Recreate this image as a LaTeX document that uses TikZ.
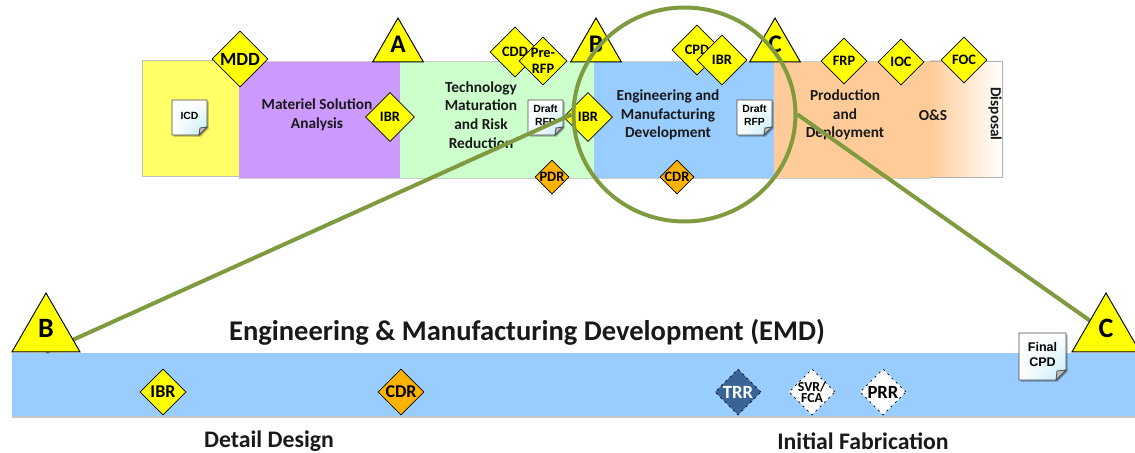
\documentclass[tikz,border=0pt]{standalone}
\usepackage{fontspec}
\setmainfont{Carlito}
\newfontfamily\notefont{Liberation Sans}
\usetikzlibrary{shapes.geometric,shadows,shadings}
\definecolor{phYellow}{HTML}{FFFF66}
\definecolor{phPurple}{HTML}{CC99FF}
\definecolor{phGreen}{HTML}{CCFFCC}
\definecolor{phBlue}{HTML}{99CCFF}
\definecolor{phOrange}{HTML}{FFCC99}
\definecolor{msYellow}{HTML}{FFFF00}
\definecolor{msOrange}{HTML}{FFB300}
\definecolor{msNavy}{HTML}{3B6496}
\definecolor{zoomGreen}{HTML}{7F9A3F}
\definecolor{notePale}{HTML}{BFEBFA}
\tikzset{
  x=0.75pt,y=-0.75pt,
  phase/.style={draw=black!20,line width=0.5pt},
  phtext/.style={font=\bfseries\fontsize{11.5}{14}\selectfont,align=center,text=black!90},
  msbase/.style={shape=diamond,aspect=1,inner sep=0pt,draw=black,line width=0.6pt},
  msyellow/.style={msbase,fill=msYellow},
  msorange/.style={msbase,fill=msOrange},
  mswhite/.style={msbase,fill=white,dash pattern=on 1.5pt off 3pt},
  msnavy/.style={msbase,fill=msNavy,dash pattern=on 1.5pt off 3pt},
  toptri/.style={shape=regular polygon,regular polygon sides=3,inner sep=0pt,draw=black,line width=0.7pt,fill=msYellow,minimum size=58.6*0.75pt,
    label={[font=\bfseries\fontsize{19}{19}\selectfont,yshift=2pt]center:#1}},
  bigtri/.style={shape=regular polygon,regular polygon sides=3,inner sep=0pt,draw=black,line width=0.7pt,fill=msYellow,minimum size=78.6*0.75pt,
    label={[font=\bfseries\fontsize{21}{21}\selectfont,yshift=3pt]center:#1}},
  zoomline/.style={draw=zoomGreen,line width=3pt},
  notefill/.style={draw=black!70,line width=0.7pt,upper left=white,upper right=white,lower left=white,lower right=notePale},
}
\newcommand{\milestone}[7][10.8]{%
  \node[#2,minimum size=2*#6*0.75pt,label={[align=center,text=#7,font=\bfseries\fontsize{#1}{#1}\selectfont]center:{#5}}] (#3) at (#4) {};}
\newcommand{\notebox}[7]{%
  % name, left, top, size, fold, font size, text
  \draw[notefill,drop shadow={shadow xshift=1.2pt,shadow yshift=-1.2pt,opacity=0.3,fill=black}]
    (#2,#3) -- (#2+#4,#3) -- (#2+#4,#3+#4-#5) -- (#2+#4-#5,#3+#4) -- (#2,#3+#4) -- cycle;
  \draw[draw=black!70,line width=0.6pt,fill=black!25] (#2+#4,#3+#4-#5) -- (#2+#4-#5,#3+#4) -- (#2+#4-#5+1,#3+#4-#5+1) -- cycle;
  \node[font=\notefont\bfseries\fontsize{#6}{#6}\selectfont,align=center,inner sep=0pt] (#1) at (#2+#4/2,#3+#4/2-2) {#7};}
\begin{document}
\begin{tikzpicture}
\useasboundingbox (0,0) rectangle (1135,453);
% phase bands
\path[fill=phYellow,draw=black!25,line width=0.5pt] (142,60) rectangle (239,176);
\path[fill=phPurple] (239,61) rectangle (400,178);
\path[fill=phGreen] (400,61) rectangle (594,178);
\path[fill=phBlue] (594,61) rectangle (774,178);
\path[fill=phOrange] (774,61) rectangle (930,178);
\path[left color=phOrange,right color=white] (930,61) rectangle (1002,177);
\draw[phase] (239,178) -- (930,178) (239,61) -- (930,61);
\draw[draw=black!30,line width=0.5pt] (930,61) -- (1002,61) -- (1002,177) -- (930,177);
% phase labels
\node[phtext] (msa) at (317,115) {Materiel Solution\\Analysis};
\node[phtext] (tmrr) at (481,115) {Technology\\Maturation\\and Risk\\Reduction};
\node[phtext] (emdtop) at (668,115) {Engineering and\\Manufacturing\\Development};
\node[phtext] (pd) at (845,115) {Production\\and\\Deployment};
\node[phtext] (os) at (933,115) {O\&S};
\node[phtext,rotate=-90] (disposal) at (995,114) {Disposal};
% notes
\notebox{icd}{172}{100}{35}{8}{7.8}{ICD}
\notebox{rfpa}{528}{100}{35}{8}{7.8}{Draft\\[2pt]RFP}
\notebox{rfpb}{737}{100}{35}{8}{7.8}{Draft\\[2pt]RFP}
% milestones
\milestone[14]{msyellow}{mdd}{240,59}{MDD}{28}{black}
\node[toptri=A] (triA) at (398,47.3) {};
\milestone{msyellow}{cdd}{515,52}{CDD}{25}{black}
\milestone{msyellow}{prerfp}{543,61}{Pre-\\[1pt]RFP}{24}{black}
\milestone{msyellow}{ibra}{390,117}{IBR}{24.5}{black}
\milestone{msyellow}{ibrb}{588,117}{IBR}{24.5}{black}
\milestone{msorange}{pdr}{552,177}{PDR}{17}{black}
\milestone{msorange}{cdrtop}{677,177}{CDR}{17}{black}
\node[toptri=B] (triB) at (596,47.3) {};
\milestone{msyellow}{cpd}{697,50}{CPD}{25}{black}
\milestone{msyellow}{ibrc}{722,60}{IBR}{25}{black}
\node[toptri=C] (triC) at (775,47.3) {};
\milestone{msyellow}{frp}{844,61}{FRP}{23}{black}
\milestone{msyellow}{ioc}{901,62}{IOC}{23}{black}
\milestone{msyellow}{foc}{964,60}{FOC}{23}{black}
% lower band
\path[fill=phBlue,drop shadow={shadow xshift=0pt,shadow yshift=-1.6pt,opacity=0.22,fill=black}] (12,353) rectangle (1136,416);
\node[font=\bfseries\fontsize{21.4}{24}\selectfont,text=black!90] (title) at (527,332) {Engineering \& Manufacturing Development (EMD)};
\node[font=\bfseries\fontsize{17.8}{20}\selectfont,text=black!90] (detail) at (269,441) {Detail Design};
\node[font=\bfseries\fontsize{17.8}{20}\selectfont,text=black!90] (initial) at (863,441) {Initial Fabrication};
\milestone[13.5]{msyellow}{ibrlow}{163,392}{IBR}{23}{black}
\milestone[13.5]{msorange}{cdrlow}{401,392}{CDR}{23}{black}
\milestone[14]{msnavy}{trr}{738,392}{TRR}{23}{white}
\milestone[10.3]{mswhite}{svr}{812,392}{SVR/\\[-2pt]FCA}{23}{black}
\milestone[14]{mswhite}{prr}{883,392}{PRR}{23}{black}
\notebox{fcpd}{1019}{333}{47}{10}{9.4}{Final\\[2.5pt]CPD}
% zoom callout
\node[shape=ellipse,draw=zoomGreen,line width=3pt,inner sep=0pt,minimum width=222*0.75pt,minimum height=214*0.75pt] (zoomring) at (684.5,114.5) {};
\coordinate (bigBfoot) at (46,352);
\coordinate (bigCcore) at (1106,332);
\draw[zoomline] (zoomring.west) -- (bigBfoot);
\draw[zoomline] (zoomring.east) -- (bigCcore);
\node[bigtri=B] (bigB) at (46,332.3) {};
\node[bigtri=C] (bigC) at (1106,332.3) {};
\end{tikzpicture}
\end{document}
